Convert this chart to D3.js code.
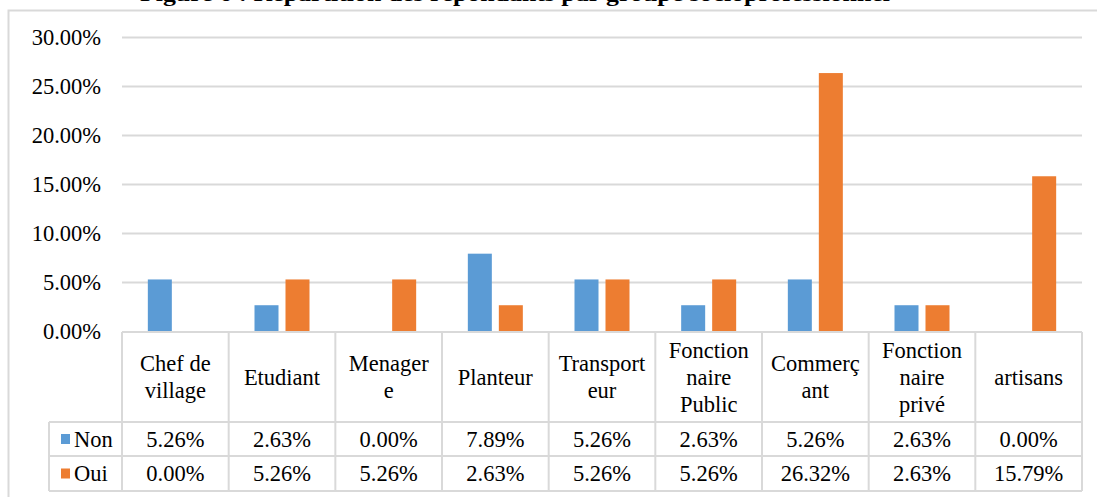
<!DOCTYPE html>
<html>
<head>
<meta charset="utf-8">
<script src="https://cdn.jsdelivr.net/npm/d3@7"></script>
<style>
  body { margin: 0; background: #fff; }
</style>
</head>
<body>
<div id="chart"></div>
<script>
// data
const categories = ["Chef de village", "Etudiant", "Menagere", "Planteur", "Transporteur",
    "Fonctionnaire Public", "Commerçant", "Fonctionnaire privé", "artisans"];
const categoryLines = [["Chef de", "village"], ["Etudiant"], ["Menager", "e"], ["Planteur"],
    ["Transport", "eur"], ["Fonction", "naire", "Public"], ["Commerç", "ant"],
    ["Fonction", "naire", "privé"], ["artisans"]];
const seriesNames = ["Non", "Oui"];
const nonValues = [0.0526, 0.0263, 0.0, 0.0789, 0.0526, 0.0263, 0.0526, 0.0263, 0.0];
const ouiValues = [0.0, 0.0526, 0.0526, 0.0263, 0.0526, 0.0526, 0.2632, 0.0263, 0.1579];
const yTicks = [0, 0.05, 0.10, 0.15, 0.20, 0.25, 0.30];
const colors = ["#5B9BD5", "#ED7D31"];
const title = "Figure 6 : Répartition des répondants par groupe socioprofessionnel";

const FONT = "'Liberation Serif', 'Times New Roman', 'DejaVu Serif', serif";
const FS = 22.5;
const W = 1097, H = 497;
const svg = d3.select("#chart").append("svg")
    .attr("width", W).attr("height", H)
    .attr("font-family", FONT);

// chart area border (runs off the right and bottom of the crop)
svg.append("rect")
    .attr("x", 8.5).attr("y", 10.5).attr("width", 1200).attr("height", 600)
    .attr("fill", "none").attr("stroke", "#D9D9D9").attr("stroke-width", 2);

// cropped title, only descenders are visible
svg.append("text")
    .attr("x", 140).attr("y", 1)
    .attr("font-family", FONT)
    .attr("font-size", 20).attr("font-weight", "bold")
    .attr("textLength", 750).attr("lengthAdjust", "spacingAndGlyphs")
    .text(title);

const left = 122, right = 1082;
const x = d3.scaleBand().domain(categories).range([left, right]);
const y = d3.scaleLinear().domain([0, 0.3]).range([331, 37]);
const barW = 24, gap = 7;

// gridlines
svg.append("g").selectAll("line")
    .data(yTicks.filter(d => d > 0))
    .enter().append("line")
    .attr("x1", left).attr("x2", right)
    .attr("y1", d => Math.round(y(d)) + 0.5).attr("y2", d => Math.round(y(d)) + 0.5)
    .attr("stroke", "#D9D9D9").attr("stroke-width", 2);

// y axis labels
svg.append("g").selectAll("text")
    .data(yTicks)
    .enter().append("text")
    .attr("x", 101).attr("y", d => y(d) + 7.5)
    .attr("text-anchor", "end")
    .attr("font-family", FONT)
    .attr("font-size", FS)
    .text(d => d3.format(".2%")(d));

// bars
const series = [nonValues, ouiValues];
series.forEach((vals, si) => {
    svg.append("g").selectAll("rect")
        .data(vals)
        .enter().append("rect")
        .attr("x", (d, i) => x(categories[i]) + x.bandwidth() / 2 + (si === 0 ? -gap / 2 - barW : gap / 2))
        .attr("y", d => y(d))
        .attr("width", barW)
        .attr("height", d => y(0) - y(d))
        .attr("fill", colors[si]);
});

// data table
const headTop = 332, rowTop = [422, 456], tableBottom = 491, legendLeft = 49;
const grid = svg.append("g").attr("stroke", "#D9D9D9").attr("stroke-width", 2);
grid.append("line").attr("x1", left).attr("x2", right).attr("y1", headTop).attr("y2", headTop);
rowTop.concat([tableBottom]).forEach(yy => {
    grid.append("line").attr("x1", legendLeft).attr("x2", right).attr("y1", yy).attr("y2", yy);
});
categories.forEach(c => {
    grid.append("line").attr("x1", x(c)).attr("x2", x(c)).attr("y1", headTop).attr("y2", tableBottom);
});
grid.append("line").attr("x1", right).attr("x2", right).attr("y1", headTop).attr("y2", tableBottom);
grid.append("line").attr("x1", legendLeft).attr("x2", legendLeft).attr("y1", rowTop[0]).attr("y2", tableBottom);

// category headers
const lineH = 27;
categories.forEach((c, i) => {
    const lines = categoryLines[i];
    const cy = (headTop + rowTop[0]) / 2;
    const y0 = cy - (lines.length - 1) * lineH / 2 + 7.5;
    const t = svg.append("text")
        .attr("text-anchor", "middle")
        .attr("font-family", FONT)
        .attr("font-size", FS);
    lines.forEach((ln, k) => {
        t.append("tspan")
            .attr("x", x(c) + x.bandwidth() / 2)
            .attr("y", y0 + k * lineH)
            .text(ln);
    });
});

// value rows with legend keys
series.forEach((vals, si) => {
    const cy = (si === 0 ? (rowTop[0] + rowTop[1]) : (rowTop[1] + tableBottom)) / 2;
    svg.append("rect")
        .attr("x", 61).attr("y", cy - 5).attr("width", 9).attr("height", 10)
        .attr("fill", colors[si]);
    svg.append("text")
        .attr("x", 74).attr("y", cy + 7.5)
        .attr("font-family", FONT)
        .attr("font-size", FS)
        .text(seriesNames[si]);
    svg.append("g").selectAll("text")
        .data(vals)
        .enter().append("text")
        .attr("x", (d, i) => x(categories[i]) + x.bandwidth() / 2)
        .attr("y", cy + 7.5)
        .attr("text-anchor", "middle")
        .attr("font-family", FONT)
        .attr("font-size", FS)
        .text(d => d3.format(".2%")(d));
});
</script>
</body>
</html>
